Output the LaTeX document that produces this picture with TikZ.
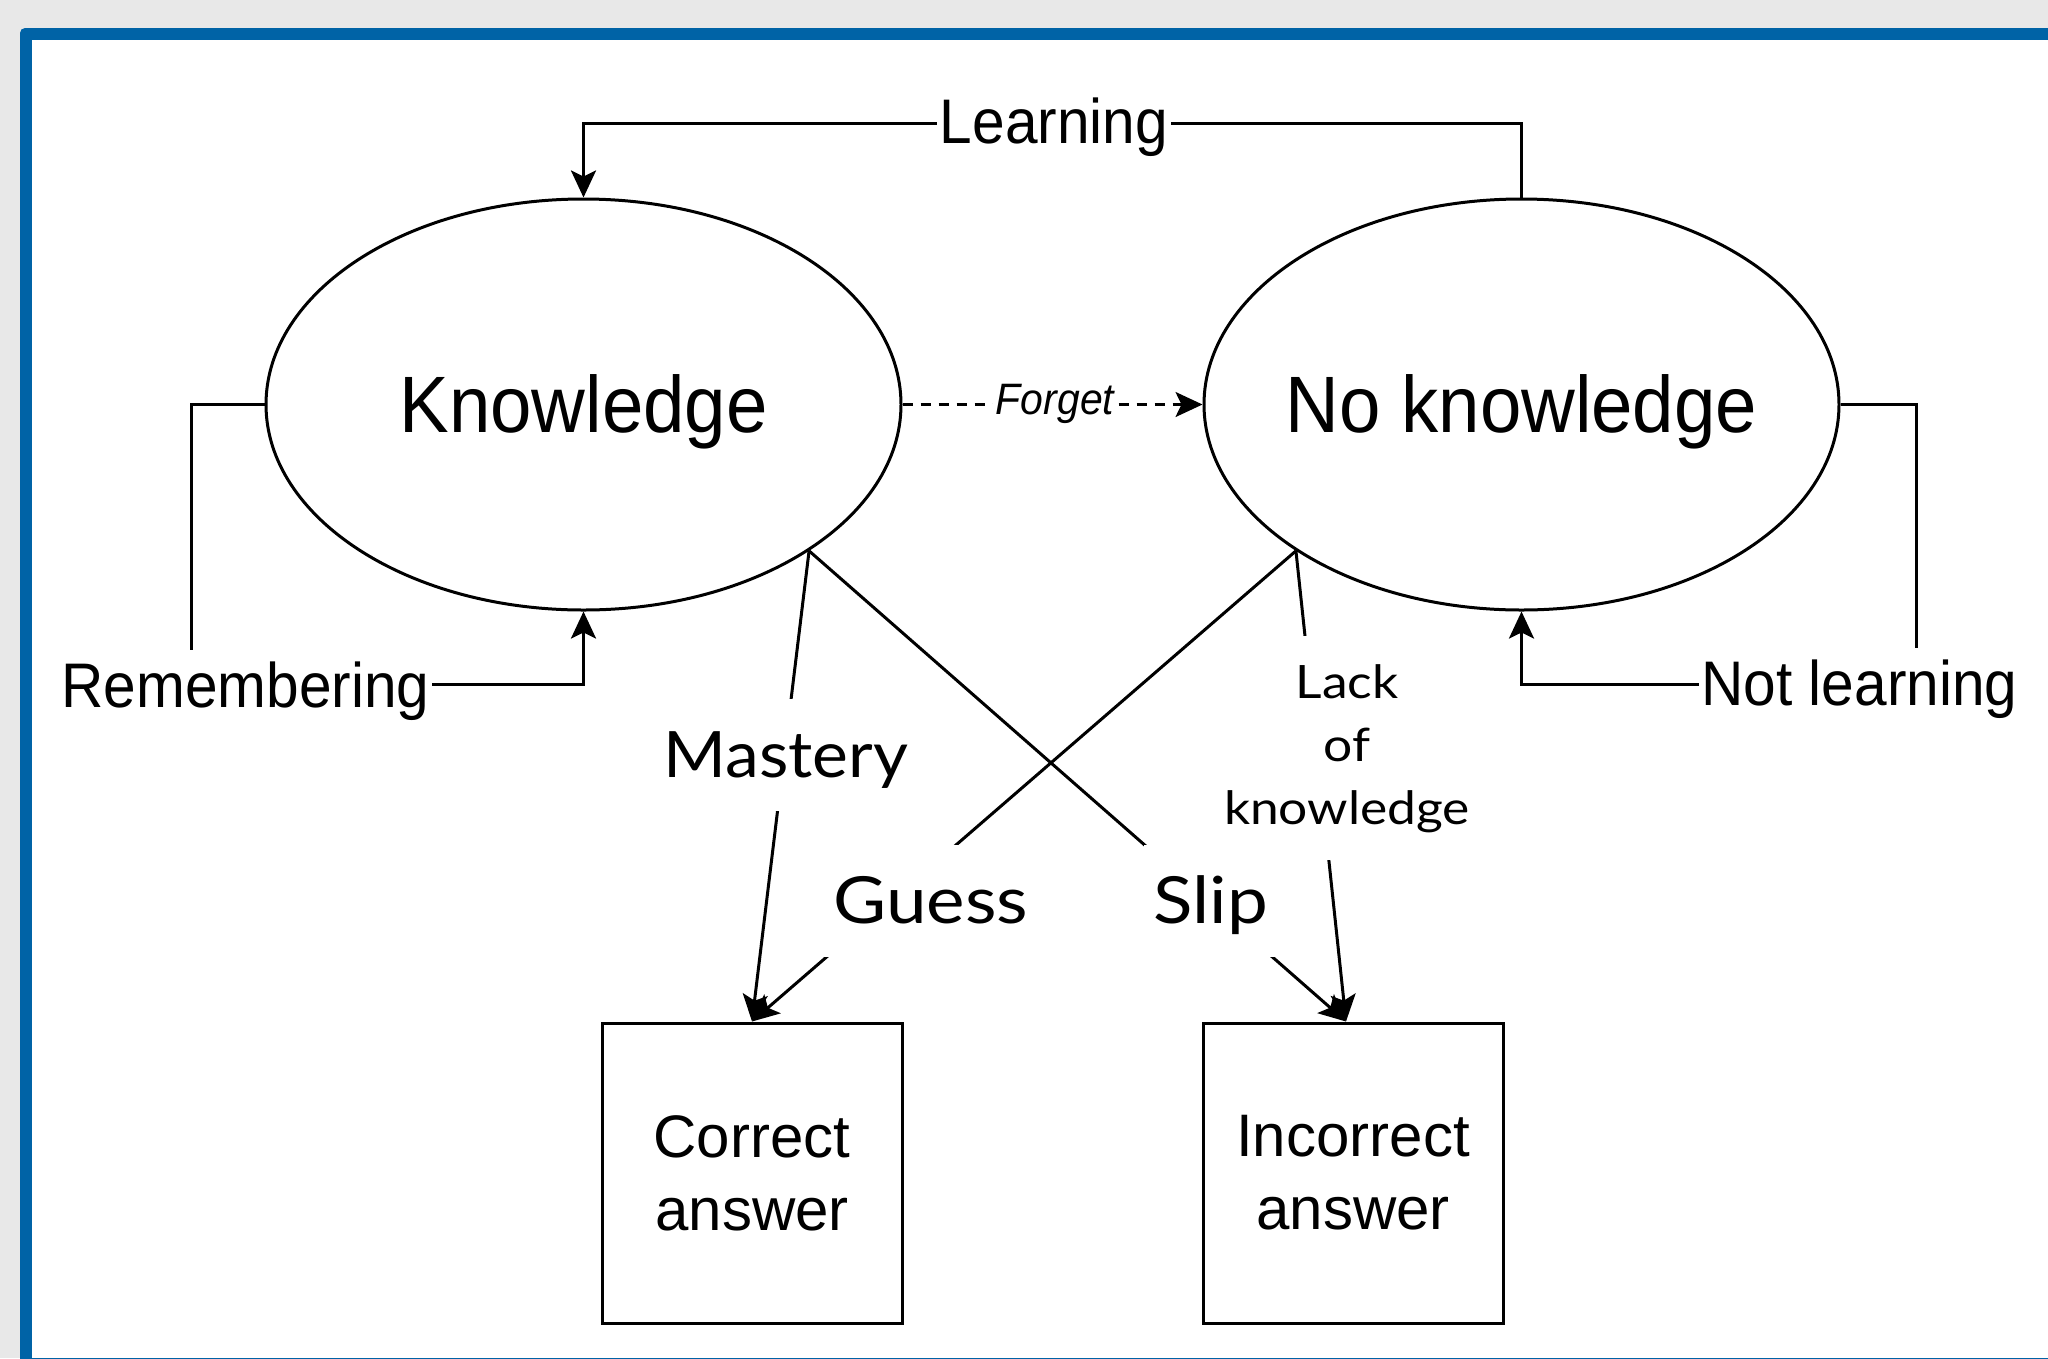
\documentclass[tikz,border=0pt]{standalone}
\usepackage{fontspec}
\setmainfont{Liberation Sans}
\newfontfamily\lato{Lato}
\usetikzlibrary{shapes.geometric,arrows.meta}
\definecolor{frameblue}{RGB}{0,99,166}
\definecolor{bggray}{RGB}{232,232,232}
\newcommand{\sqz}[1]{\scalebox{0.93}[1]{#1}}
\newcommand{\wid}[1]{\scalebox{1.12}[1]{#1}}
\begin{document}
\begin{tikzpicture}[x=1pt,y=-1pt,
  ln/.style={line width=3pt, black},
  arr/.style={ln, -{Stealth[length=27pt,width=25pt,inset=6pt]}},
  st/.style={ellipse, draw, line width=3pt, minimum width=635pt, minimum height=411pt, inner sep=0pt,
     font=\fontsize{80}{96}\selectfont, text height=60pt, text depth=5pt},
  ans/.style={rectangle, draw, line width=3pt, minimum width=300pt, minimum height=300pt, inner sep=0pt,
     align=center, font=\fontsize{60}{73}\selectfont},
  elab/.style={fill=white, inner xsep=3pt, inner ysep=0pt, text height=57pt, text depth=18pt, anchor=base,
     font=\fontsize{63}{75}\selectfont},
  plab/.style={fill=white, inner xsep=10pt, inner ysep=0pt, anchor=base, text height=78pt, text depth=34pt},
]
\useasboundingbox (0,0) rectangle (2048,1358);
\fill[bggray] (0,0) rectangle (2048,1358);
\fill[frameblue, rounded corners=5pt] (20,28) rectangle (2100,1400);
\fill[white] (32,40) rectangle (2048,1358);

% states
\node[st] (K) at (583.5,404.5) {\makebox[0pt]{\sqz{Knowledge}}};
\node[st] (NK) at (1521.5,404.5) {\makebox[0pt]{\sqz{No knowledge}}};
% answers
\node[ans] (C) at (752,1173) {Correct\\answer};
\node[ans] (I) at (1353,1173) {Incorrect\\answer};

% corners of the loops
\coordinate (rc) at (191,684);
\coordinate (nc) at (1916,684);
\coordinate (lc) at (1053,123);

% connectors
\draw[arr] (NK.north) |- (lc) -| (K.north);
\draw[arr] (K.west) -| (rc) -| (K.south);
\draw[arr] (NK.east) -| (nc) -| (NK.south);
\draw[arr, line width=2.4pt, dash pattern=on 10pt off 8pt] (K.east) -- (NK.west);
\draw[arr] (K.south east) -- (C.north);
\draw[arr] (K.south east) -- ([xshift=-7pt]I.north);
\draw[arr] (NK.south west) -- (C.north);
\draw[arr] (NK.south west) -- ([xshift=-7pt]I.north);

% labels
\node[elab] (lrn) at (1054,143) {\sqz{Learning}};
\node[elab] (rem) at (245.5,707) {\sqz{Remembering}};
\node[elab] (nlr) at (1859.5,705) {\sqz{Not learning}};
\node[fill=white, inner xsep=3pt, inner ysep=2pt, anchor=base,
      font=\itshape\fontsize{44}{52}\selectfont] (fg) at (1055,414) {\sqz{Forget}};
\node[plab, font=\lato\fontsize{64}{76}\selectfont] (ms) at (786,777) {\scalebox{1.06}[1]{Mastery}};
\node[plab, font=\lato\fontsize{65}{77}\selectfont] (gs) at (931,923) {\wid{Guess}};
\node[plab, font=\lato\fontsize{65}{77}\selectfont] (sl) at (1211,923) {\wid{Slip}};
\node[fill=white, align=center, inner xsep=8pt, inner ysep=28pt, anchor=north,
      font=\lato\fontsize{46}{63}\selectfont] (lk) at (1347,636) {\wid{Lack}\\\wid{of}\\\wid{knowledge}};
\end{tikzpicture}
\end{document}
